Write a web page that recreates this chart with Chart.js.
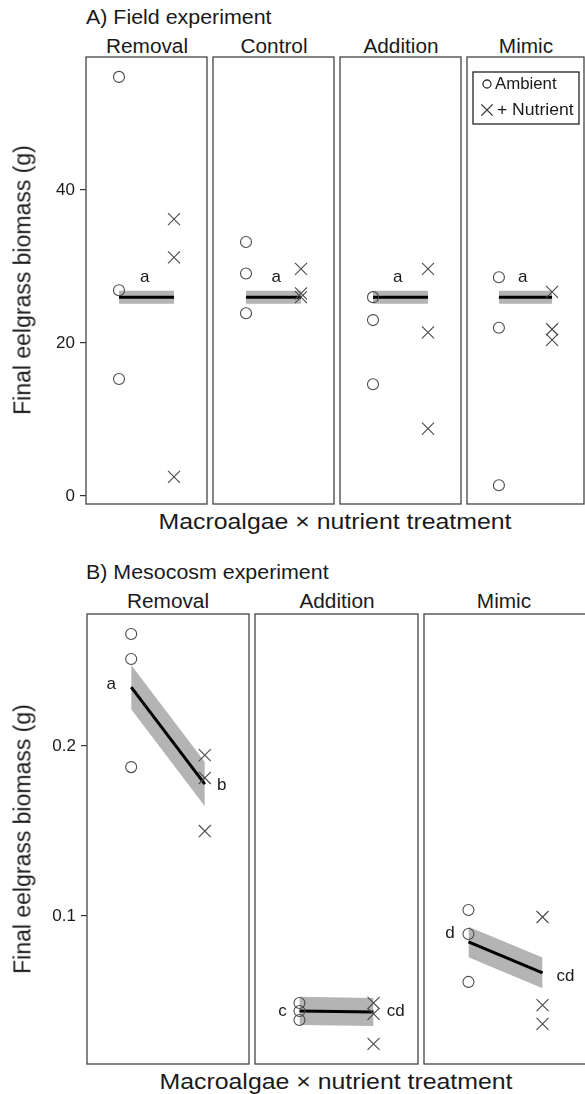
<!DOCTYPE html>
<html>
<head>
<meta charset="utf-8">
<script src="https://cdn.jsdelivr.net/npm/chart.js@4.4.0/dist/chart.umd.min.js"></script>
<style>
  html, body { margin: 0; padding: 0; background: #fff; overflow: hidden; }
  #page { position: relative; width: 585px; height: 1094px; overflow: hidden; font-family: 'Liberation Sans', Arial, Helvetica, sans-serif; color: #1a1a1a; }
  #page canvas { position: absolute; }
  .txt { position: absolute; white-space: nowrap; }
</style>
</head>
<body>
<div id="page"></div>
<script>
// A) field experiment
const fieldTreatments = ['Removal', 'Control', 'Addition', 'Mimic'];
const fieldAmbient = [[54.8, 26.9, 15.3], [33.2, 29.1, 23.9], [26.0, 23.0, 14.6], [28.6, 22.0, 1.4]];
const fieldNutrient = [[36.2, 31.2, 2.5], [29.7, 26.5, 26.0], [29.7, 21.4, 8.8], [26.7, 21.8, 20.4]];
const fieldFit = [[26.0, 26.0], [26.0, 26.0], [26.0, 26.0], [26.0, 26.0]];
const fieldCI = [0.85, 0.85, 0.85, 0.85];
const fieldLetters = [[['a', 1.47, 28.6]], [['a', 1.55, 28.6]], [['a', 1.45, 28.6]], [['a', 1.45, 28.6]]];
const fieldTicks = [0, 20, 40];
const fieldRange = [-1.05, 57.4];

// B) mesocosm experiment
const mesoTreatments = ['Removal', 'Addition', 'Mimic'];
const mesoAmbient = [[0.2659, 0.2512, 0.1876], [0.0488, 0.0441, 0.0388], [0.1035, 0.0894, 0.0612]];
const mesoNutrient = [[0.1947, 0.1812, 0.150], [0.0488, 0.0424, 0.0247], [0.0994, 0.0476, 0.0365]];
const mesoFit = [[0.2347, 0.1776], [0.0441, 0.0435], [0.0847, 0.0665]];
const mesoCI = [0.0130, 0.0083, 0.0090];
const mesoLetters = [[['a', 0.73, 0.2365], ['b', 2.23, 0.1771]], [['c', 0.77, 0.0441], ['cd', 2.30, 0.0441]], [['d', 0.75, 0.090], ['cd', 2.31, 0.0647]]];
const mesoTicks = [0.1, 0.2];
const mesoRange = [0.0129, 0.2777];

const legendLabels = ['Ambient', '+Nutrient'];
const xTitle = 'Macroalgae \u00d7 nutrient treatment';
const yTitle = 'Final eelgrass biomass (g)';

const FONT = "'Liberation Sans', Arial, Helvetica, sans-serif";
const INK = '#1a1a1a';
const page = document.getElementById('page');

function addText(txt, x, base, size, mode, stretch) {
    const d = document.createElement('div');
    d.className = 'txt';
    d.textContent = txt;
    d.style.fontSize = size + 'px';
    d.style.lineHeight = size + 'px';
    const sx = stretch || 1.08;
    if (mode === 'rot') {
        d.style.left = x + 'px';
        d.style.top = base + 'px';
        d.style.transform = 'translate(-50%,-50%) scaleX(' + sx + ') rotate(-90deg)';
    } else if (mode === 'center') {
        d.style.left = x + 'px';
        d.style.top = (base - 0.8465 * size) + 'px';
        d.style.transform = 'translateX(-50%) scaleX(' + sx + ')';
    } else {
        d.style.left = x + 'px';
        d.style.top = (base - 0.8465 * size) + 'px';
        d.style.transformOrigin = 'left center';
        d.style.transform = 'scaleX(' + sx + ')';
    }
    page.appendChild(d);
}

// frame around each facet
const framePlugin = {
    id: 'frame',
    afterDatasetsDraw(chart) {
        const a = chart.chartArea, c = chart.ctx;
        c.save();
        c.strokeStyle = '#444';
        c.lineWidth = 1.3;
        c.strokeRect(a.left, a.top, a.right - a.left, a.bottom - a.top);
        c.restore();
    }
};

function makeLetters(items) {
    return {
        id: 'letters',
        afterDatasetsDraw(chart) {
            const c = chart.ctx, xs = chart.scales.x, ys = chart.scales.y;
            c.save();
            c.fillStyle = INK;
            c.font = '17px ' + FONT;
            c.textAlign = 'center';
            c.textBaseline = 'middle';
            items.forEach(it => c.fillText(it[0], xs.getPixelForValue(it[1]), ys.getPixelForValue(it[2])));
            c.restore();
        }
    };
}

function stretchText(c, txt, x, y, sx) {
    c.save();
    c.translate(x, y);
    c.scale(sx, 1);
    c.fillText(txt, 0, 0);
    c.restore();
}

const legendPlugin = {
    id: 'boxLegend',
    afterDraw(chart) {
        const a = chart.chartArea, c = chart.ctx;
        const x0 = a.left + 6, y0 = a.top + 15;
        c.save();
        c.strokeStyle = '#222';
        c.lineWidth = 1.3;
        c.strokeRect(x0, y0, 106, 52);
        c.strokeStyle = '#333';
        c.fillStyle = 'rgba(0,0,0,0)';
        Chart.helpers.drawPoint(c, { pointStyle: 'circle', radius: 4, borderWidth: 1 }, x0 + 14, y0 + 12);
        Chart.helpers.drawPoint(c, { pointStyle: 'crossRot', radius: 8, borderWidth: 1 }, x0 + 14, y0 + 38);
        c.fillStyle = INK;
        c.font = '16px ' + FONT;
        c.textBaseline = 'alphabetic';
        stretchText(c, legendLabels[0], x0 + 22, y0 + 17, 1.05);
        stretchText(c, legendLabels[1].charAt(0), x0 + 24, y0 + 43, 1.1);
        stretchText(c, legendLabels[1].slice(1), x0 + 39, y0 + 43, 1.1);
        c.restore();
    }
};

function makePanel(fx0, fx1, top, bottom, range, ticks, amb, nut, fit, ci, letters, showAxis, withLegend) {
    const canvas = document.createElement('canvas');
    const left = showAxis ? 0 : fx0 - 2;
    const w = fx1 + 2 - left, h = bottom - top + 4;
    canvas.width = w; canvas.height = h;
    canvas.style.left = left + 'px';
    canvas.style.top = (top - 2) + 'px';
    canvas.style.width = w + 'px';
    canvas.style.height = h + 'px';
    page.appendChild(canvas);

    const plugins = [framePlugin, makeLetters(letters)];
    if (withLegend) plugins.push(legendPlugin);

    const yScale = {
        type: 'linear',
        min: range[0],
        max: range[1],
        display: showAxis,
        position: 'left',
        border: { display: false },
        grid: { drawOnChartArea: false, drawTicks: true, tickLength: 6, color: '#333', lineWidth: 1.2 },
        ticks: { color: INK, padding: 5, font: { size: 17, family: FONT } },
        afterBuildTicks: s => { s.ticks = ticks.map(v => ({ value: v })); }
    };
    if (showAxis) {
        yScale.afterFit = s => {
            s.width = fx0;
            s.paddingTop = 0;
            s.paddingBottom = 0;
        };
    }

    new Chart(canvas, {
        type: 'line',
        data: {
            datasets: [
                {
                    label: legendLabels[0],
                    data: amb.map(v => ({ x: 1, y: v })),
                    showLine: false,
                    pointStyle: 'circle',
                    pointRadius: 5.5,
                    pointBorderWidth: 1.1,
                    pointBorderColor: '#4a4a4a',
                    pointBackgroundColor: 'rgba(0,0,0,0)'
                },
                {
                    label: legendLabels[1],
                    data: nut.map(v => ({ x: 2, y: v })),
                    showLine: false,
                    pointStyle: 'crossRot',
                    pointRadius: 8.5,
                    pointBorderWidth: 1.1,
                    pointBorderColor: '#4a4a4a'
                },
                {
                    label: 'fit',
                    data: [{ x: 1, y: fit[0] }, { x: 2, y: fit[1] }],
                    borderColor: '#000',
                    borderWidth: 3,
                    pointRadius: 0
                },
                {
                    label: 'upper',
                    data: [{ x: 1, y: fit[0] + ci }, { x: 2, y: fit[1] + ci }],
                    borderWidth: 0,
                    borderColor: 'rgba(0,0,0,0)',
                    pointRadius: 0,
                    fill: false
                },
                {
                    label: 'lower',
                    data: [{ x: 1, y: fit[0] - ci }, { x: 2, y: fit[1] - ci }],
                    borderWidth: 0,
                    borderColor: 'rgba(0,0,0,0)',
                    backgroundColor: '#b4b4b4',
                    pointRadius: 0,
                    fill: '-1'
                }
            ]
        },
        options: {
            responsive: false,
            animation: false,
            events: [],
            layout: { autoPadding: false, padding: { left: showAxis ? 0 : 2, right: 2, top: 2, bottom: 2 } },
            plugins: { legend: { display: false }, tooltip: { enabled: false }, title: { display: false } },
            scales: {
                x: { type: 'linear', min: 0.4, max: 2.6, display: false },
                y: yScale
            }
        },
        plugins: plugins
    });
}

// A) field experiment
const framesA = [[86, 207], [213, 334], [340, 461], [467, 584]];
const topA = 57, bottomA = 504;
addText('A) Field experiment', 86, 24, 20, 'left', 1.07);
fieldTreatments.forEach((t, i) => {
    addText(t, (framesA[i][0] + framesA[i][1]) / 2, 53, 20, 'center', 1.04);
    makePanel(framesA[i][0], framesA[i][1], topA, bottomA, fieldRange, fieldTicks,
        fieldAmbient[i], fieldNutrient[i], fieldFit[i], fieldCI[i], fieldLetters[i], i === 0, i === 3);
});
addText(xTitle, 335, 530, 22, 'center', 1.13);
addText(yTitle, 22, 280, 23, 'rot', 1.08);

// B) mesocosm experiment
const framesB = [[87, 249], [255, 418], [424, 587]];
const topB = 614, bottomB = 1064;
addText('B) Mesocosm experiment', 86, 579, 20, 'left', 1.07);
mesoTreatments.forEach((t, i) => {
    addText(t, (framesB[i][0] + Math.min(framesB[i][1], 584)) / 2, 608, 20, 'center', 1.04);
    makePanel(framesB[i][0], framesB[i][1], topB, bottomB, mesoRange, mesoTicks,
        mesoAmbient[i], mesoNutrient[i], mesoFit[i], mesoCI[i], mesoLetters[i], i === 0, false);
});
addText(xTitle, 336, 1090, 22, 'center', 1.13);
addText(yTitle, 22, 839, 23, 'rot', 1.08);
</script>
</body>
</html>
